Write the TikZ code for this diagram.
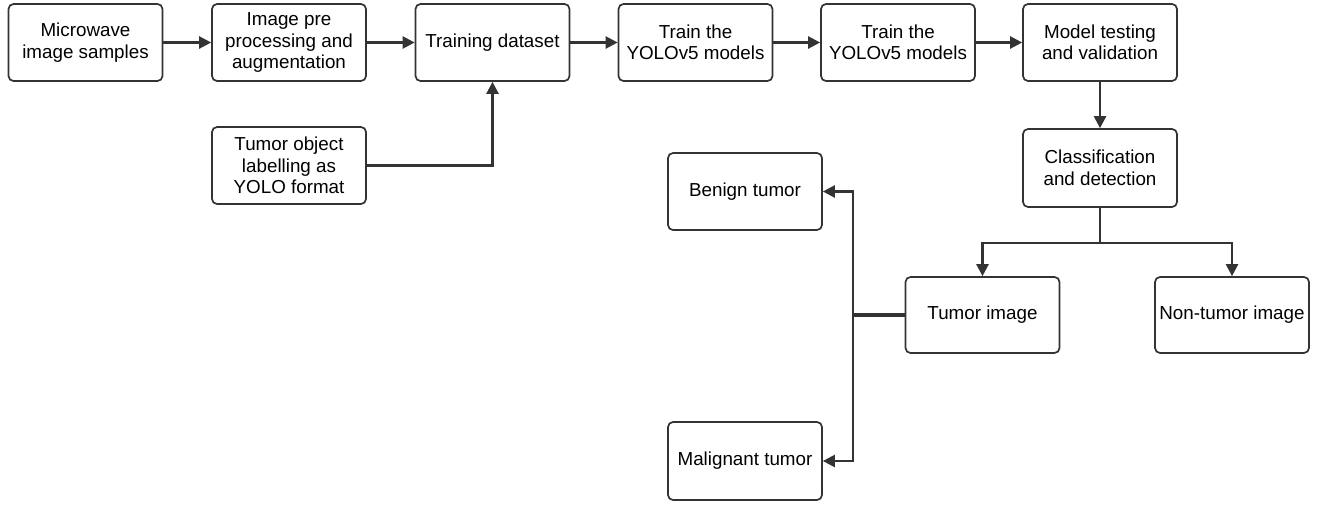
\documentclass[tikz,border=0pt]{standalone}
\usepackage{fontspec}
\setmainfont{Liberation Sans}
\usetikzlibrary{arrows.meta}
\definecolor{ln}{HTML}{333333}
\begin{document}
\begin{tikzpicture}[x=1pt,y=-1pt,
  box/.style={draw=ln,line width=1.7pt,rounded corners=5pt,align=center,inner sep=0pt,
    minimum width=154pt,minimum height=77pt,font=\fontsize{18.8}{21.5}\selectfont,text=black},
  conn/.style={draw=ln,line width=2.4pt,-{Triangle[length=12pt,width=12pt]}},
  plain/.style={draw=ln,line width=2.4pt}]
\useasboundingbox (0,0) rectangle (1327,504);
\node[box] (b1) at (85.5,42.5) {Microwave\\image samples};
\node[box] (b2) at (289,42.5) {Image pre\\processing and\\augmentation};
\node[box] (b3) at (492.5,42.5) {Training dataset};
\node[box] (b4) at (695.5,42.5) {Train the\\YOLOv5 models};
\node[box] (b5) at (898,42.5) {Train the\\YOLOv5 models};
\node[box] (b6) at (1100,42.5) {Model testing\\and validation};
\node[box] (b7) at (289,165.5) {Tumor object\\labelling as\\YOLO format};
\node[box,minimum height=78pt] (cl) at (1100,168) {Classification\\and detection};
\node[box] (bn) at (745,191.5) {Benign tumor};
\node[box,minimum height=76pt] (tu) at (982.5,315) {Tumor image};
\node[box,minimum height=76pt] (nt) at (1232,315) {Non-tumor image};
\node[box,minimum height=78pt] (ml) at (745,461) {Malignant tumor};
\coordinate (sp) at (1100,243);
\coordinate (bj) at (853,315);
\draw[conn] (b1) -- (b2);
\draw[conn] (b2) -- (b3);
\draw[conn] (b3) -- (b4);
\draw[conn] (b4) -- (b5);
\draw[conn] (b5) -- (b6);
\draw[conn] (b7.east) -| (b3.south);
\draw[conn] (b6) -- (cl);
\draw[plain] (cl.south) -- (sp);
\draw[conn] (sp) -| (tu.north);
\draw[conn] (sp) -| (nt.north);
\draw[draw=ln,line width=3.4pt] (tu.west) -- (bj);
\draw[conn] (bj) |- (bn.east);
\draw[conn] (bj) |- (ml.east);
\end{tikzpicture}
\end{document}
